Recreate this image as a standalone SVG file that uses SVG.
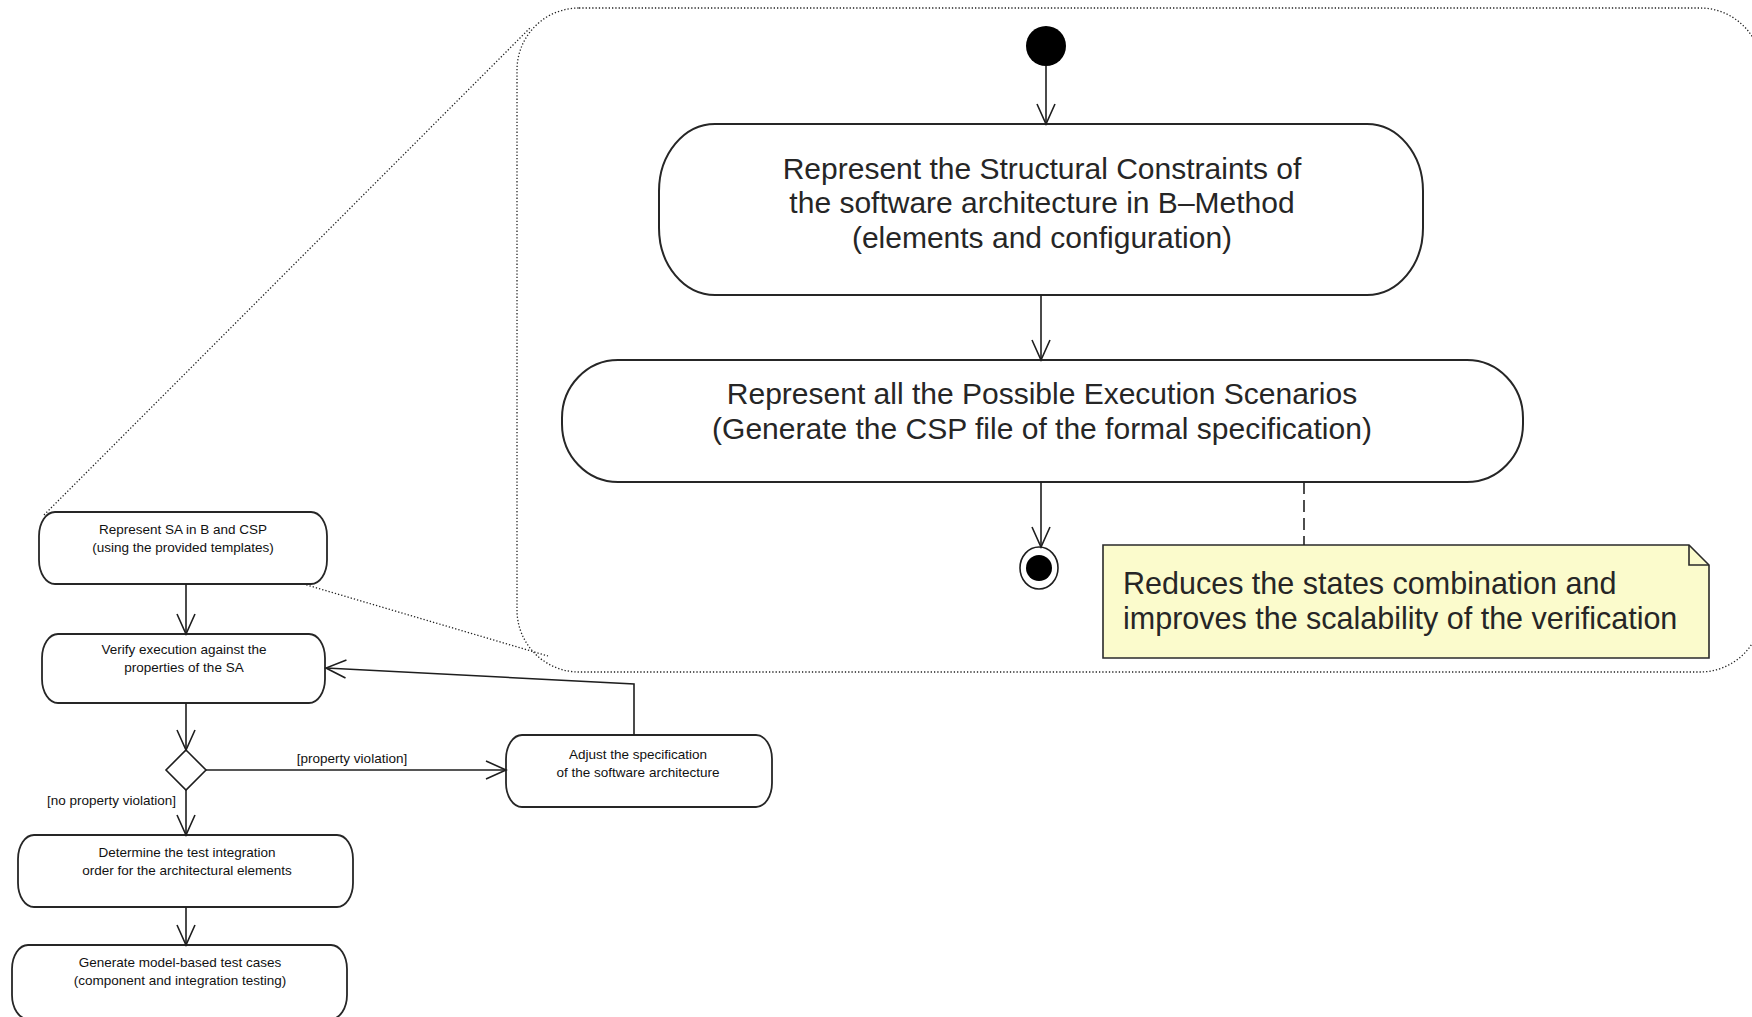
<svg xmlns="http://www.w3.org/2000/svg" width="1752" height="1017" viewBox="0 0 1752 1017">
  <style>
    .act{fill:#ffffff;stroke:#262626;stroke-width:2}
    .sact{fill:#ffffff;stroke:#262626;stroke-width:1.8}
    .big{font-family:"Liberation Sans",Arial,sans-serif;font-size:30px;fill:#262626;text-anchor:middle}
    .sm{font-family:"Liberation Sans",Arial,sans-serif;font-size:13.5px;fill:#111111;text-anchor:middle}
    .lbl{font-family:"Liberation Sans",Arial,sans-serif;font-size:13.5px;fill:#111111}
    .note{fill:#fbfbcc;stroke:#2a2a2a;stroke-width:1.6}
    .notetxt{font-family:"Liberation Sans",Arial,sans-serif;font-size:30.5px;fill:#262626}
    .edge{fill:none;stroke:#1e1e1e;stroke-width:1.6}
    .dotted{fill:none;stroke:#222222;stroke-width:1.3;stroke-dasharray:1.3 2}
    .anchor{fill:none;stroke:#222222;stroke-width:1.6;stroke-dasharray:12 6}
  </style>
  <defs>
    <marker id="open" markerUnits="userSpaceOnUse" viewBox="-22 -12 24 24" refX="0" refY="0" markerWidth="24" markerHeight="24" orient="auto" overflow="visible">
      <path d="M-20,-9 L0,0 L-20,9" fill="none" stroke="#1e1e1e" stroke-width="1.6"/>
    </marker>
  </defs>
  <rect width="1752" height="1017" fill="#ffffff"/>

  <!-- magnified region of the first activity, with its projection lines -->
  <g id="zoom-frame">
    <rect class="dotted" x="517" y="8" width="1245" height="664" rx="62" ry="62"/>
    <line class="dotted" x1="44" y1="515" x2="530" y2="28"/>
    <line class="dotted" x1="300" y1="583" x2="548" y2="656"/>
  </g>

  <!-- detailed sub-activity -->
  <g id="initial">
    <circle cx="1046" cy="46" r="20" fill="#000000"/>
  </g>
  <g id="represent-structural">
    <rect class="act" x="659" y="124" width="764" height="171" rx="56" ry="67"/>
    <text class="big" x="1042" y="179">Represent the Structural Constraints of</text>
    <text class="big" x="1042" y="213">the software architecture in B–Method</text>
    <text class="big" x="1042" y="248">(elements and configuration)</text>
  </g>
  <g id="represent-scenarios">
    <rect class="act" x="562" y="360" width="961" height="122" rx="56" ry="58"/>
    <text class="big" x="1042" y="404">Represent all the Possible Execution Scenarios</text>
    <text class="big" x="1042" y="439">(Generate the CSP file of the formal specification)</text>
  </g>
  <g id="final">
    <ellipse cx="1039" cy="568" rx="19" ry="21" fill="#ffffff" stroke="#1e1e1e" stroke-width="1.6"/>
    <circle cx="1039" cy="568" r="13" fill="#000000"/>
  </g>
  <g id="note">
    <path class="note" d="M1103,545 H1689 L1709,565 V658 H1103 Z"/>
    <path d="M1689,545 V565 H1709" fill="none" stroke="#2a2a2a" stroke-width="1.6"/>
    <text class="notetxt" x="1123" y="594">Reduces the states combination and</text>
    <text class="notetxt" x="1123" y="629">improves the scalability of the verification</text>
  </g>

  <!-- overall process -->
  <g id="represent-sa">
    <rect class="sact" x="39" y="512" width="288" height="72" rx="16" ry="24"/>
    <text class="sm" x="183" y="534">Represent SA in B and CSP</text>
    <text class="sm" x="183" y="552">(using the provided templates)</text>
  </g>
  <g id="verify">
    <rect class="sact" x="42" y="634" width="283" height="69" rx="16" ry="24"/>
    <text class="sm" x="184" y="654">Verify execution against the</text>
    <text class="sm" x="184" y="672">properties of the SA</text>
  </g>
  <g id="decision">
    <path d="M186,750 L206,770 L186,790 L166,770 Z" fill="#ffffff" stroke="#1e1e1e" stroke-width="1.6"/>
  </g>
  <g id="adjust">
    <rect class="sact" x="506" y="735" width="266" height="72" rx="16" ry="24"/>
    <text class="sm" x="638" y="759">Adjust the specification</text>
    <text class="sm" x="638" y="777">of the software architecture</text>
  </g>
  <g id="determine-order">
    <rect class="sact" x="18" y="835" width="335" height="72" rx="16" ry="24"/>
    <text class="sm" x="187" y="857">Determine the test integration</text>
    <text class="sm" x="187" y="875">order for the architectural elements</text>
  </g>
  <g id="generate-tests">
    <rect class="sact" x="12" y="945" width="335" height="74" rx="16" ry="24"/>
    <text class="sm" x="180" y="967">Generate model-based test cases</text>
    <text class="sm" x="180" y="985">(component and integration testing)</text>
  </g>

  <g id="connectors">
    <line class="edge" x1="1046" y1="66" x2="1046" y2="124" marker-end="url(#open)"/>
    <line class="edge" x1="1041" y1="295" x2="1041" y2="360" marker-end="url(#open)"/>
    <line class="edge" x1="1041" y1="482" x2="1041" y2="547" marker-end="url(#open)"/>
    <line class="anchor" x1="1304" y1="482" x2="1304" y2="545"/>

    <line class="edge" x1="186" y1="584" x2="186" y2="634" marker-end="url(#open)"/>
    <line class="edge" x1="186" y1="703" x2="186" y2="750" marker-end="url(#open)"/>
    <line class="edge" x1="206" y1="770" x2="506" y2="770" marker-end="url(#open)"/>
    <text class="lbl" x="352" y="763" text-anchor="middle">[property violation]</text>
    <line class="edge" x1="186" y1="790" x2="186" y2="835" marker-end="url(#open)"/>
    <text class="lbl" x="47" y="805">[no property violation]</text>
    <polyline class="edge" points="634,735 634,684 326,668" marker-end="url(#open)"/>
    <line class="edge" x1="186" y1="907" x2="186" y2="945" marker-end="url(#open)"/>
  </g>
</svg>
